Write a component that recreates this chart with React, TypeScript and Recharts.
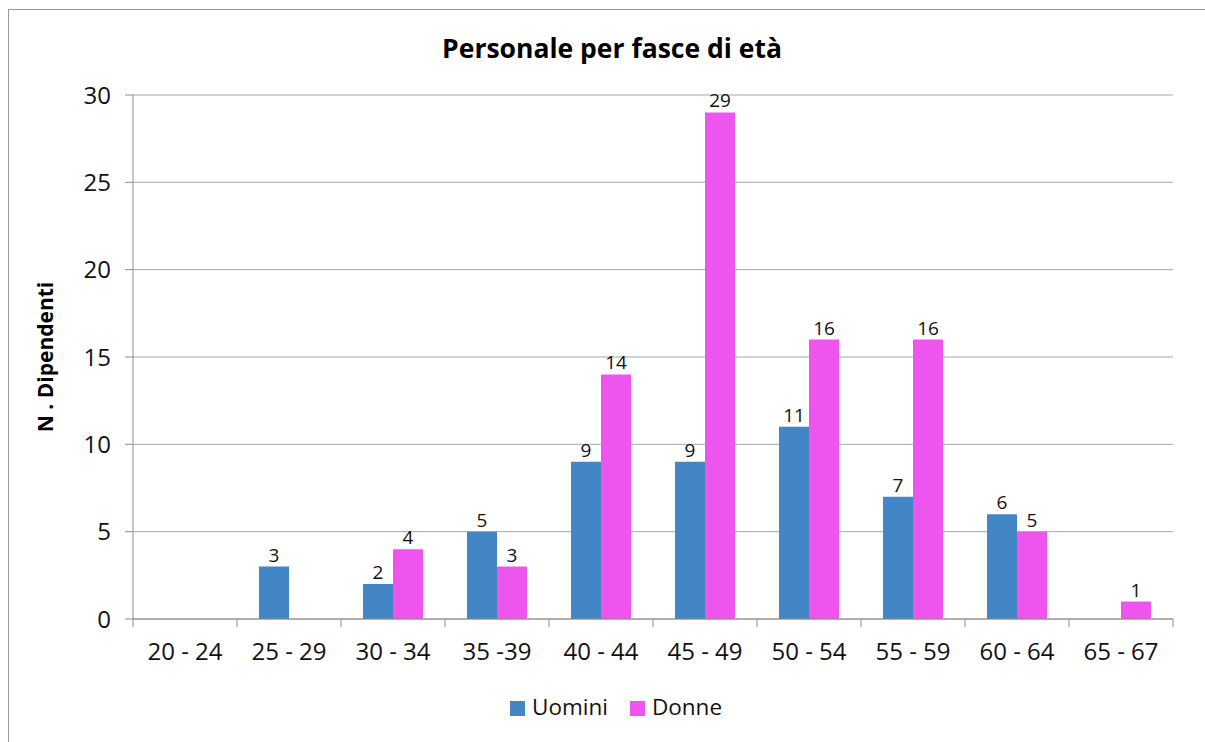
import React from 'react'
import { BarChart, Bar, XAxis, YAxis, CartesianGrid, Legend, LabelList } from 'recharts'

const CATEGORIES = ['20 - 24', '25 - 29', '30 - 34', '35 -39', '40 - 44', '45 - 49', '50 - 54', '55 - 59', '60 - 64', '65 - 67']
const UOMINI = [null, 3, 2, 5, 9, 9, 11, 7, 6, null]
const DONNE = [null, null, 4, 3, 14, 29, 16, 16, 5, 1]
const Y_TICKS = [0, 5, 10, 15, 20, 25, 30]
const SERIES_ORDER = ['Uomini', 'Donne']

const data = CATEGORIES.map((fascia, i) => ({ fascia, uomini: UOMINI[i], donne: DONNE[i] }))

const W = 1205
const H = 742
const MARGIN = { top: 95, right: 32, bottom: 20, left: 0 }
const Y_WIDTH = 133
const BAND = (W - MARGIN.right - Y_WIDTH) / CATEGORIES.length
const FONT = '"Open Sans", sans-serif'
const AXIS = '#8c8c8c'
const FRAME = '#9a9a9a'

const CategoryTick = (props: any) => {
  const { x, y, payload, index } = props
  const half = BAND / 2
  return (
    <g>
      <line x1={x - half} y1={y - 8} x2={x - half} y2={y} stroke={AXIS} />
      {index === CATEGORIES.length - 1 && <line x1={x + half} y1={y - 8} x2={x + half} y2={y} stroke={AXIS} />}
      <text x={x} y={y + 33} textAnchor="middle" fill="#111" fontSize={24} fontFamily={FONT}>
        {payload.value}
      </text>
    </g>
  )
}

export default function App() {
  return (
    <div style={{ position: 'fixed', left: 0, top: 0, width: W, height: H, background: '#fff', overflow: 'hidden' }}>
      {/* chart frame: only top and left edges fall inside the picture */}
      <div style={{ position: 'absolute', left: 8, top: 9, width: W - 8, height: 1, background: FRAME }} />
      <div style={{ position: 'absolute', left: 8, top: 9, width: 1, height: H - 9, background: FRAME }} />
      <div style={{ position: 'absolute', left: 20, top: 30, width: 1184, textAlign: 'center', fontFamily: FONT, fontWeight: 700, fontSize: 26.5, color: '#000' }}>
        Personale per fasce di età
      </div>
      <div style={{ position: 'absolute', left: 0, top: 0 }}>
        <BarChart width={W} height={H} data={data} margin={MARGIN} barCategoryGap={22} barGap={0}>
          <CartesianGrid vertical={false} stroke="#a6a6a6" />
          <XAxis dataKey="fascia" axisLine={{ stroke: AXIS }} tickLine={false} height={72} interval={0} tick={<CategoryTick />} />
          <YAxis
            width={Y_WIDTH}
            domain={[0, 30]}
            ticks={Y_TICKS}
            interval={0}
            axisLine={{ stroke: AXIS }}
            tickLine={{ stroke: AXIS }}
            tickSize={8}
            tickMargin={14}
            tick={{ fill: '#111', fontSize: 24, fontFamily: FONT }}
            label={{ value: 'N . Dipendenti', angle: -90, position: 'insideLeft', offset: 46, style: { fontFamily: FONT, fontWeight: 700, fontSize: 21, fill: '#000', textAnchor: 'middle' } }}
          />
          <Legend
            verticalAlign="bottom"
            iconType="square"
            iconSize={15}
            itemSorter={(item: any) => SERIES_ORDER.indexOf(item.value)}
            wrapperStyle={{ fontFamily: FONT, fontSize: 22.5, color: '#111', left: 50, width: 1154 }}
            formatter={(v: any) => <span style={{ color: '#111', paddingLeft: 3, paddingRight: 12 }}>{v}</span>}
          />
          <Bar dataKey="uomini" name="Uomini" fill="#4386c6" isAnimationActive={false}>
            <LabelList dataKey="uomini" position="top" offset={5} fill="#111" fontSize={19} fontFamily={FONT} />
          </Bar>
          <Bar dataKey="donne" name="Donne" fill="#ee55ee" isAnimationActive={false}>
            <LabelList dataKey="donne" position="top" offset={5} fill="#111" fontSize={19} fontFamily={FONT} />
          </Bar>
        </BarChart>
      </div>
    </div>
  )
}
